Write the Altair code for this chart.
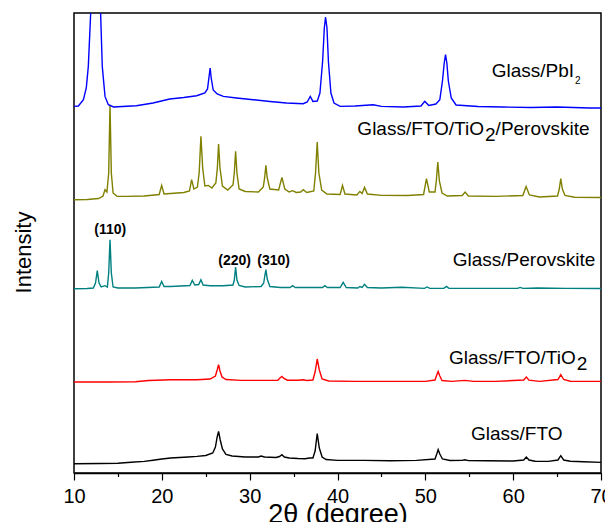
import altair as alt
import pandas as pd

# ---------------- data ----------------
samples = ["Glass/FTO", "Glass/FTO/TiO2", "Glass/Perovskite",
           "Glass/FTO/TiO2/Perovskite", "Glass/PbI2"]
colors = ["#000000", "#ff0000", "#008080", "#808000", "#0000ff"]

major_ticks = [10, 20, 30, 40, 50, 60, 70]
minor_ticks = [15, 25, 35, 45, 55, 65]

# Glass/FTO (black)
fto_x = [10, 13, 15, 16.5, 18, 19, 20, 21, 22, 23, 24, 25, 25.8, 26.1, 26.3, 26.46, 26.65, 26.9, 27.3, 28,
         29.5, 31, 31.3, 31.7, 33, 33.4, 33.67, 33.95, 34.5, 35.5, 36.3, 36.8, 37.2, 37.45, 37.69, 37.93, 38.25,
         38.7, 40, 43, 46, 49, 51.1, 51.3, 51.46, 51.65, 51.95, 52.8, 54.2, 54.5, 54.9, 57, 60, 61.2, 61.5,
         61.8, 62.5, 64, 65.1, 65.42, 65.75, 66.5, 68, 70]
fto_y = [9.3, 9.5, 9.8, 10.8, 11.6, 12.8, 14, 15, 15.5, 16, 16.6, 17.5, 20, 26, 36, 41.6, 33, 24, 18.5, 17,
         16, 16, 17, 16, 15.5, 16.5, 18.3, 16, 15, 14.5, 14.3, 15, 15, 22, 39.3, 25, 16,
         13.5, 12.6, 12.6, 12.3, 12.6, 14, 19, 23.3, 19, 14, 12.5, 12.6, 13.3, 12.4, 12.3, 12, 13, 16,
         13, 11.8, 11.6, 13, 17.3, 13, 11.8, 11.2, 10.6]

# Glass/FTO/TiO2 (red)
tio_x = [10, 14, 17, 18.5, 21, 24, 25.5, 26.1, 26.3, 26.46, 26.62, 26.85, 27.3, 29, 31, 33.2, 33.45, 33.67,
         33.9, 34.3, 35.5, 36.1, 36.5, 37.2, 37.45, 37.69, 37.93, 38.25, 39, 42, 46, 50, 51.1, 51.3, 51.46,
         51.65, 51.9, 53, 54.5, 55.5, 58, 61.2, 61.5, 61.8, 63, 65.1, 65.42, 65.75, 66.5, 70]
tio_y = [91, 91, 91.2, 92.5, 93.3, 93.3, 94, 97, 103, 108.3, 102, 96, 93.5, 92.6, 92.6, 92.8, 95, 96.6,
         94.5, 92.8, 92.8, 93.3, 92.5, 93, 101, 114, 103, 94, 92, 91.6, 91.6, 91.6, 93, 98, 101.6,
         97, 92.5, 91.6, 92.6, 91.6, 91.6, 93, 95.9, 92.8, 91.6, 93.5, 98.3, 93.5, 91.8, 91.6]

# Glass/Perovskite (teal)
per_x = [10, 11.5, 12.2, 12.45, 12.65, 12.85, 13.1, 13.53, 13.8, 13.95, 14.1, 14.25, 14.45, 15, 17, 19.7,
         19.98, 20.25, 21, 23.2, 23.47, 23.75, 24.2, 24.45, 24.7, 25.5, 27, 28.1, 28.25, 28.4, 28.55, 28.8,
         29.5, 31.3, 31.6, 31.72, 31.85, 32.0, 32.3, 33.5, 34.6, 34.88, 35.2, 37, 38.3, 38.56, 38.85, 40.3,
         40.65, 41.0, 42.3, 42.55, 42.8, 43.08, 43.4, 45, 47.3, 49.9, 50.2, 50.5, 52.1, 52.4, 52.7, 56,
         60.5, 60.8, 61.1, 62.8, 66, 70]
per_y = [184.3, 184.5, 185, 190, 202.3, 190, 186, 187.3, 186, 200, 233.3, 200, 186, 185, 185, 186,
         191.6, 186.5, 186.5, 187.5, 192.6, 188, 188.5, 193.3, 188, 187.3, 187.3, 188, 193, 206, 193, 187.5,
         186, 186.5, 190, 197, 203.3, 194, 186.5, 185.5, 185.5, 187.3, 185.5, 185.5, 185.5, 187.3, 185.5,
         185.5, 190.6, 185.5, 185, 186.5, 185.5, 188.6, 185.5, 185, 185.8, 184.6, 186, 184.6, 184.6,
         186.6, 184.6, 184.6, 184.6, 185.6, 184.6, 185, 184.6, 184.5]

# Glass/FTO/TiO2/Perovskite (olive)
ftp_x = [10, 11.5, 12.8, 13.3, 13.53, 13.75, 13.95, 14.1, 14.25, 14.45, 14.9, 16, 18, 19.7, 19.98, 20.25,
         21, 22.5, 23.15, 23.39, 23.65, 24.05, 24.25, 24.45, 24.65, 24.9, 25.3, 25.7, 26.15, 26.32, 26.46,
         26.62, 26.9, 27.5, 28.1, 28.25, 28.4, 28.55, 28.8, 29.5, 31, 31.55, 31.7, 31.85, 32.0, 32.3, 33.3,
         33.67, 34.0, 34.5, 34.88, 35.3, 35.8, 36.1, 36.5, 37.3, 37.5, 37.69, 37.88, 38.2, 38.8, 40.3,
         40.57, 40.85, 42.2, 42.55, 42.8, 43.08, 43.4, 45, 48, 49.8, 50.13, 50.45, 51.1, 51.25, 51.42,
         51.6, 51.9, 52.5, 54.2, 54.53, 54.9, 58, 61.1, 61.47, 61.85, 63, 65.05, 65.25, 65.42, 65.6,
         65.9, 67, 70]
ftp_y = [273.3, 273.5, 274.5, 277, 283.3, 281, 300, 368.3, 300, 280, 276.6, 276.6, 277, 278.5, 287.6, 279,
         279.5, 280.5, 282, 293.3, 284, 286, 300, 336.6, 305, 287, 287.6, 285, 290, 305, 329,
         305, 287, 283, 288, 300, 321.6, 300, 284, 281.5, 281, 286, 295, 307.6, 295, 284, 283,
         295.6, 284, 281, 282.3, 280.5, 281, 283.3, 280.5, 282, 300, 331, 300, 283, 279, 278.5,
         287.6, 279, 278, 281.6, 279.5, 285.6, 279, 277.6, 277.5, 278.5, 294.3, 281, 281, 292, 311,
         292, 280, 277, 277.5, 281, 277, 276.6, 277.5, 286.6, 278, 276, 277, 284, 294.3, 284,
         277.5, 275.8, 275.5]

# Glass/PbI2 (blue)
pbi_x = [10, 10.5, 11.07, 11.4, 11.63, 11.9, 12.2, 12.45, 12.75, 13.03, 13.22, 13.53, 13.91, 14.5, 15.5,
         17.1, 19, 20.9, 22.5, 23.96, 24.9, 25.2, 25.4, 25.5, 25.62, 25.85, 26.3, 27, 28.5, 30.4, 32.3,
         34.2, 36.1, 36.55, 36.9, 37.2, 37.7, 38.0, 38.3, 38.5, 38.64, 38.8, 38.97, 39.25, 39.6, 40.3, 42,
         44.06, 45, 47.5, 49.5, 49.94, 50.4, 51.2, 51.65, 51.95, 52.15, 52.3, 52.45, 52.62, 52.95, 53.5,
         56, 58.8, 62, 65, 68.7, 70]
pbi_y = [366.6, 367, 373.3, 385, 406.6, 460, 560, 600, 560, 460, 406.6, 376.6, 368.3, 366, 366.5,
         367.3, 370, 374, 375.5, 377.3, 380, 384, 398, 405, 395, 383, 379, 376.6, 375, 373.3, 371.5,
         370, 369.3, 371, 376.6, 371.6, 372, 380, 411, 445, 456, 445, 411, 380, 370, 366.6, 367,
         368.3, 366.6, 366, 367, 371.6, 367.5, 369, 373.3, 392, 410, 418.3, 410, 392, 375, 368,
         366.5, 366, 365.5, 366, 365, 365]

series = [(samples[0], fto_x, fto_y), (samples[1], tio_x, tio_y), (samples[2], per_x, per_y),
          (samples[3], ftp_x, ftp_y), (samples[4], pbi_x, pbi_y)]

rows = []
for name, xs, ys in series:
    assert len(xs) == len(ys), (name, len(xs), len(ys))
    rows += [{"sample": name, "two_theta": a, "intensity": b} for a, b in zip(xs, ys)]
df = pd.DataFrame(rows)

# sample labels (main text, full-size "2", small subscript "2", hkl labels)
label_text = ["Glass/PbI", "Glass/FTO/TiO", "/Perovskite", "Glass/Perovskite", "Glass/FTO/TiO", "Glass/FTO"]
label_x = [57.56, 42.26, 58.0, 53.12, 52.7, 55.2]
label_y = [396, 337.6, 337.6, 206.6, 109.3, 32.6]

sub_text = ["2", "2"]
sub_x = [56.8, 67.23]
sub_y = [331.6, 102.6]

small_sub_text = ["2"]
small_sub_x = [67.05]
small_sub_y = [389.3]

hkl_text = ["(110)", "(220)", "(310)"]
hkl_x = [14.13, 28.28, 32.72]
hkl_y = [239.3, 208.3, 208.3]

FONT = "Liberation Sans"
xscale = alt.Scale(domain=[10, 70], nice=False, zero=False)
yscale = alt.Scale(domain=[0, 460], nice=False, zero=False)

lines = alt.Chart(df).mark_line(strokeWidth=1.4, clip=True).encode(
    x=alt.X("two_theta:Q", scale=xscale,
            axis=alt.Axis(values=major_ticks, tickSize=7, tickWidth=1.2, tickColor="black",
                          labelFontSize=20, labelFont=FONT, labelColor="black", labelFlush=False,
                          labelBaseline="alphabetic", labelPadding=22, grid=False,
                          domainColor="black", domainWidth=1.5,
                          title="2θ (degree)", titleFont=FONT, titleFontSize=27,
                          titleFontWeight="normal", titleColor="black",
                          titleBaseline="alphabetic", titleY=49)),
    y=alt.Y("intensity:Q", scale=yscale,
            axis=alt.Axis(labels=False, ticks=False, grid=False, domain=False,
                          title="Intensity", titleFont=FONT, titleFontSize=22,
                          titleFontWeight="normal", titleColor="black",
                          titleBaseline="alphabetic", titleX=-44, titleY=239, titleAngle=270)),
    color=alt.Color("sample:N", scale=alt.Scale(domain=samples, range=colors), legend=None),
    detail="sample:N",
)

minor = alt.Chart(pd.DataFrame({"two_theta": minor_ticks})).mark_point(opacity=0).encode(
    x=alt.X("two_theta:Q", scale=xscale,
            axis=alt.Axis(values=minor_ticks, tickSize=3.5, tickWidth=1.2, tickColor="black",
                          labels=False, domain=False, grid=False, title=None, orient="bottom")),
    y=alt.value(0),
)


def text_layer(texts, xs, ys, **kw):
    d = pd.DataFrame({"t": texts, "two_theta": xs, "intensity": ys})
    return alt.Chart(d).mark_text(font=FONT, color="black", baseline="alphabetic", **kw).encode(
        x=alt.X("two_theta:Q", scale=xscale, axis=None),
        y=alt.Y("intensity:Q", scale=yscale, axis=None),
        text="t:N",
    )


labels = text_layer(label_text, label_x, label_y, fontSize=19, align="left")
subs = text_layer(sub_text, sub_x, sub_y, fontSize=19, align="left")
small_subs = text_layer(small_sub_text, small_sub_x, small_sub_y, fontSize=10, align="left")
hkl = text_layer(hkl_text, hkl_x, hkl_y, fontSize=14, fontWeight="bold", align="center")

chart = alt.layer(lines, minor, labels, subs, small_subs, hkl).resolve_axis(
    x="independent", y="independent"
).properties(
    width=527, height=460,
    autosize=alt.AutoSizeParams(type="none"),
    padding={"left": 66, "top": 5, "right": 4, "bottom": 49},
    background="white",
).configure_view(stroke="black", strokeWidth=1.5)

chart.save("out.html", embed_options={"renderer": "svg", "actions": False})
